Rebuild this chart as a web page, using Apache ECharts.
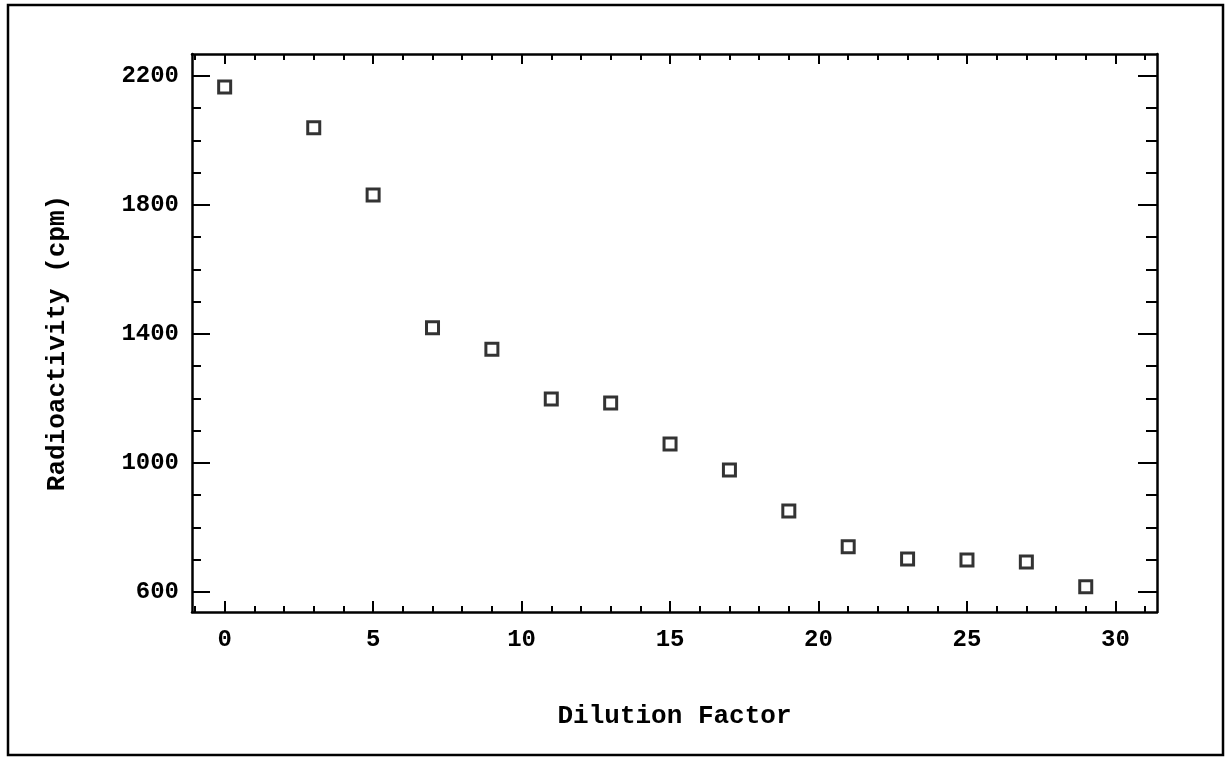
<!DOCTYPE html>
<html>
<head>
<meta charset="utf-8">
<script src="https://cdn.jsdelivr.net/npm/echarts@6/dist/echarts.min.js"></script>
<style>
html,body{margin:0;padding:0;background:#fff;}
#chart{width:1231px;height:758px;}
</style>
</head>
<body>
<div id="chart"></div>
<script>
// Data
const dilution = [0, 3, 5, 7, 9, 11, 13, 15, 17, 19, 21, 23, 25, 27, 29];
const radioactivity = [2166, 2039, 1831, 1419, 1353, 1198, 1186, 1059, 978, 851, 740, 702, 699, 693, 616];
const xMajorTicks = [0, 5, 10, 15, 20, 25, 30];
const xMinorTicks = [-1, 1, 2, 3, 4, 6, 7, 8, 9, 11, 12, 13, 14, 16, 17, 18, 19, 21, 22, 23, 24, 26, 27, 28, 29, 31];
const yMajorTicks = [600, 1000, 1400, 1800, 2200];
const yMinorTicks = [700, 800, 900, 1100, 1200, 1300, 1500, 1600, 1700, 1900, 2000, 2100];

const xRange = [-1.1, 31.4];
const yRange = [538, 2268];

const FONT = "'Liberation Mono', 'Courier New', monospace";
const gridRect = {left: 192, top: 54, right: 74, bottom: 146};
const plain = v => String(Math.round(v));

function xAx(gridIndex, position, ticks, len, withLabel, showLine) {
  return {
    type: 'value', gridIndex, position,
    min: xRange[0], max: xRange[1],
    axisLine: {show: showLine, onZero: false, lineStyle: {color: '#000', width: 2.5}},
    axisTick: {show: true, inside: true, length: len, customValues: ticks, lineStyle: {color: '#000', width: 2}},
    axisLabel: withLabel ? {show: true, customValues: xMajorTicks, formatter: plain, margin: 16, color: '#000',
      fontFamily: FONT, fontWeight: 'bold', fontSize: 24} : {show: false},
    splitLine: {show: false}
  };
}
function yAx(gridIndex, position, ticks, len, withLabel, showLine) {
  return {
    type: 'value', gridIndex, position,
    min: yRange[0], max: yRange[1],
    axisLine: {show: showLine, onZero: false, lineStyle: {color: '#000', width: 2.5}},
    axisTick: {show: true, inside: true, length: len, customValues: ticks, lineStyle: {color: '#000', width: 2}},
    axisLabel: withLabel ? {show: true, customValues: yMajorTicks, formatter: plain, margin: 13, color: '#000',
      fontFamily: FONT, fontWeight: 'bold', fontSize: 24} : {show: false},
    splitLine: {show: false}
  };
}

const xAxes = [
  Object.assign(xAx(0, 'bottom', xMajorTicks, 11, true, true), {
    name: 'Dilution Factor', nameLocation: 'middle', nameGap: 91,
    nameTextStyle: {color: '#000', fontFamily: FONT, fontWeight: 'bold', fontSize: 26}
  }),
  xAx(0, 'top', xMajorTicks, 10, false, true),
  xAx(1, 'bottom', xMinorTicks, 6, false, false),
  xAx(1, 'top', xMinorTicks, 6, false, false)
];
const yAxes = [
  Object.assign(yAx(0, 'left', yMajorTicks, 18, true, true), {
    name: 'Radioactivity (cpm)', nameLocation: 'middle', nameGap: 122,
    nameTextStyle: {color: '#000', fontFamily: FONT, fontWeight: 'bold', fontSize: 26, padding: [0, 20, 0, 0]}
  }),
  yAx(0, 'right', yMajorTicks, 19, false, true),
  yAx(1, 'left', yMinorTicks, 9, false, false),
  yAx(1, 'right', yMinorTicks, 11, false, false)
];

const chart = echarts.init(document.getElementById('chart'), null, {renderer: 'canvas'});
chart.setOption({
  backgroundColor: '#fff',
  animation: false,
  grid: [Object.assign({}, gridRect), Object.assign({}, gridRect)],
  xAxis: xAxes,
  yAxis: yAxes,
  graphic: [{
    type: 'rect', shape: {x: 8, y: 5, width: 1215, height: 750},
    style: {fill: 'none', stroke: '#000', lineWidth: 2.5}, silent: true
  }],
  series: [{
    type: 'scatter', xAxisIndex: 0, yAxisIndex: 0,
    data: dilution.map((d, i) => [d, radioactivity[i]]),
    symbol: 'rect', symbolSize: 12,
    itemStyle: {color: '#fff', borderColor: '#000', borderWidth: 3}
  }]
});
</script>
</body>
</html>
